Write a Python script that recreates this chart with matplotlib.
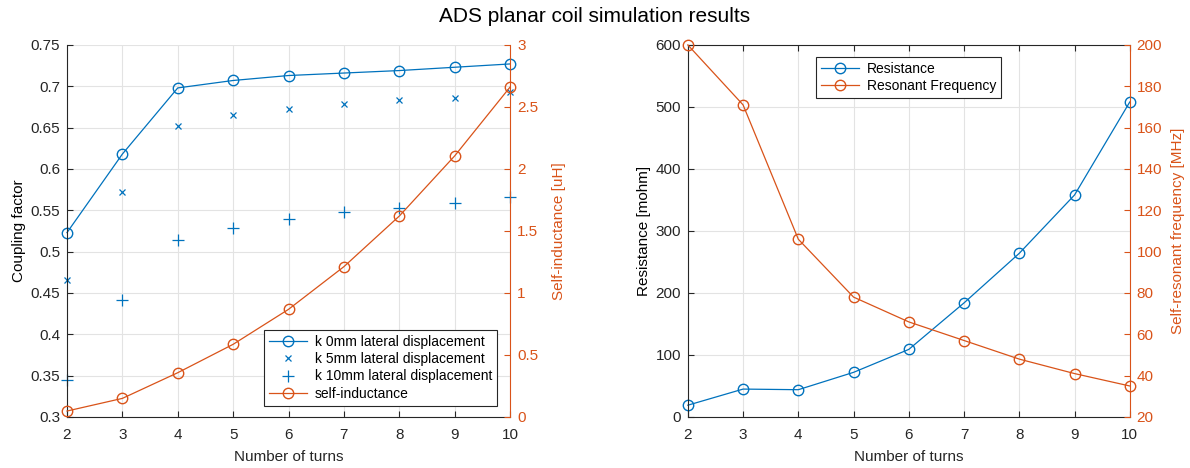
import matplotlib
matplotlib.use('Agg')
import matplotlib.pyplot as plt

plt.rcParams['font.family'] = ['Liberation Sans', 'DejaVu Sans']

turns = [2, 3, 4, 5, 6, 7, 8, 9, 10]
k_0mm = [0.523, 0.618, 0.698, 0.707, 0.713, 0.716, 0.719, 0.723, 0.727]
k_5mm = [0.466, 0.572, 0.652, 0.665, 0.673, 0.678, 0.683, 0.686, 0.693]
k_10mm = [0.345, 0.441, 0.514, 0.528, 0.539, 0.548, 0.553, 0.559, 0.566]
inductance_uH = [0.048, 0.15, 0.357, 0.586, 0.868, 1.212, 1.62, 2.105, 2.66]
resistance_mohm = [19, 45, 44, 72, 109, 184, 264, 358, 508]
res_freq_MHz = [200, 171, 106, 78, 66, 57, 48, 41, 35]

BLUE = '#0072BD'
ORANGE = '#D95319'
TXT = '#262626'
GRID = '#e3e3e3'
FS = 11
LFS = 10


def style_axes(ax, top_spine=True):
    ax.set_xlim(2, 10)
    ax.set_xticks(turns)
    ax.grid(True, color=GRID, linewidth=0.8)
    ax.set_axisbelow(True)
    ax.tick_params(direction='in', labelsize=FS, colors=TXT, length=4,
                   top=top_spine)
    ax.tick_params(axis='x', pad=8)
    ax.tick_params(axis='y', pad=5)
    for s in ['left', 'bottom', 'top']:
        ax.spines[s].set_color(TXT)
        ax.spines[s].set_linewidth(0.8)
    ax.spines['top'].set_visible(top_spine)
    ax.spines['right'].set_visible(False)
    ax.set_xlabel('Number of turns', fontsize=FS, color=TXT, labelpad=6)


def style_right(ax2):
    ax2.tick_params(direction='in', labelsize=FS, colors=ORANGE, length=4, pad=5)
    ax2.spines['right'].set_color(ORANGE)
    ax2.spines['right'].set_linewidth(0.8)
    for s in ['left', 'bottom', 'top']:
        ax2.spines[s].set_visible(False)


def make_legend(ax, handles, loc, anchor):
    leg = ax.legend(handles=handles, loc=loc, bbox_to_anchor=anchor,
                    fontsize=LFS, frameon=True, fancybox=False, edgecolor=TXT,
                    framealpha=1, handlelength=2.7, borderpad=0.35,
                    labelspacing=0.25, handletextpad=0.6, borderaxespad=0)
    leg.get_frame().set_linewidth(0.8)
    return leg


fig = plt.figure(figsize=(11.9, 4.68), dpi=100)
fig.suptitle('ADS planar coil simulation results', fontsize=15, color='black', y=0.985)

# left panel: coupling factor + self-inductance
ax1 = fig.add_axes([0.0563, 0.109, 0.3723, 0.795])
ax1b = ax1.twinx()
style_axes(ax1, top_spine=False)
style_right(ax1b)

l1, = ax1.plot(turns, k_0mm, color=BLUE, marker='o', mfc='none', ms=7.5, lw=0.9,
               label='k 0mm lateral displacement')
l2, = ax1.plot(turns, k_5mm, color=BLUE, marker='x', ms=5, lw=0, mew=0.9,
               label='k 5mm lateral displacement')
l3, = ax1.plot(turns, k_10mm, color=BLUE, marker='+', ms=8, lw=0, mew=0.9,
               label='k 10mm lateral displacement')
l4, = ax1b.plot(turns, inductance_uH, color=ORANGE, marker='o', mfc='none', ms=7.5,
                lw=0.9, label='self-inductance')
for ln in (l1, l2, l3, l4):
    ln.set_clip_on(False)

ax1.set_ylim(0.3, 0.75)
ax1.set_yticks([0.3, 0.35, 0.4, 0.45, 0.5, 0.55, 0.6, 0.65, 0.7, 0.75])
ax1.set_yticklabels(['0.3', '0.35', '0.4', '0.45', '0.5', '0.55', '0.6', '0.65', '0.7', '0.75'])
ax1.set_ylabel('Coupling factor', fontsize=FS, color='black', labelpad=3)
ax1b.set_ylim(0, 3)
ax1b.set_yticks([0, 0.5, 1, 1.5, 2, 2.5, 3])
ax1b.set_yticklabels(['0', '0.5', '1', '1.5', '2', '2.5', '3'])
ax1b.set_ylabel('Self-inductance [uH]', fontsize=FS, color=ORANGE, labelpad=10)

make_legend(ax1b, [l1, l2, l3, l4], 'lower right', (0.971, 0.03))

# right panel: resistance + resonant frequency
ax2 = fig.add_axes([0.578, 0.109, 0.3714, 0.795])
ax2b = ax2.twinx()
style_axes(ax2, top_spine=True)
style_right(ax2b)

r1, = ax2.plot(turns, resistance_mohm, color=BLUE, marker='o', mfc='none', ms=7.5,
               lw=0.9, label='Resistance')
r2, = ax2b.plot(turns, res_freq_MHz, color=ORANGE, marker='o', mfc='none', ms=7.5,
                lw=0.9, label='Resonant Frequency')
r1.set_clip_on(False)
r2.set_clip_on(False)

ax2.set_ylim(0, 600)
ax2.set_yticks([0, 100, 200, 300, 400, 500, 600])
ax2.set_ylabel('Resistance [mohm]', fontsize=FS, color='black', labelpad=3)
ax2b.set_ylim(20, 200)
ax2b.set_yticks([20, 40, 60, 80, 100, 120, 140, 160, 180, 200])
ax2b.set_ylabel('Self-resonant frequency [MHz]', fontsize=FS, color=ORANGE, labelpad=6)

make_legend(ax2b, [r1, r2], 'upper center', (0.5, 0.968))

fig.savefig('out.png', dpi=100)
